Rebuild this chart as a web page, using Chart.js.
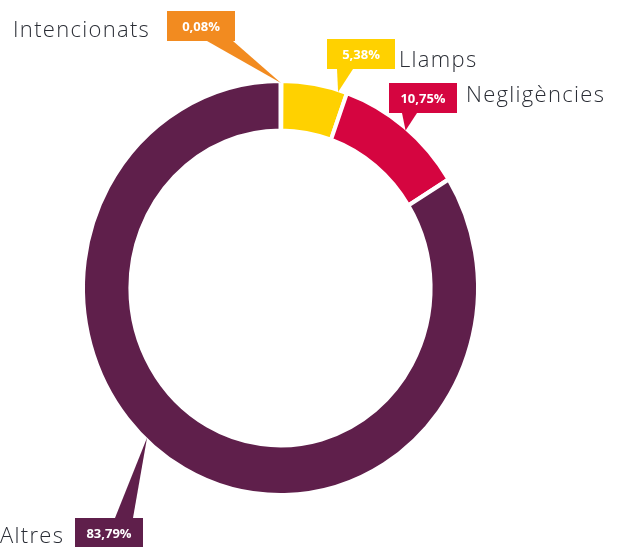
<!DOCTYPE html>
<html><head><meta charset="utf-8">
<script src="https://cdn.jsdelivr.net/npm/chart.js@4.4.0/dist/chart.umd.min.js"></script>
<style>html,body{margin:0;padding:0;background:#fff;overflow:hidden}#wrap{width:626px;height:547px;position:relative}</style>
</head><body><div id="wrap"><canvas id="c"></canvas></div>
<script>
const categories = ['Intencionats', 'Llamps', 'Negligències', 'Altres'];
const values = [0.08, 5.38, 10.75, 83.79];
const colors = ['#F28B20', '#FFD100', '#D50540', '#5F1F4B'];
const valueLabels = values.map(v => v.toFixed(2).replace('.', ',') + '%');

// callout layout (annotation positions)
const callouts = [
  {box: [167, 11], text: [13, 37], base: 'bottom', b0: 40, b1: 66, frac: 0.5},
  {box: [327, 39], text: [399, 67], base: 'bottom', b0: 10, b1: 26, frac: 0.87},
  {box: [389, 83], text: [466, 102], base: 'bottom', b0: 13, b1: 28, frac: 0.52},
  {box: [75, 518], text: [0, 543], base: 'top', b0: 40, b1: 58, frac: 0.546}
];
const boxW = 68, boxH = 30;
const ringAspect = 205 / 195.5;

const stretch = {
  id: 'stretch',
  beforeDatasetsDraw(chart) {
    const a = chart.getDatasetMeta(0).data[0];
    const ctx = chart.ctx;
    ctx.save();
    ctx.translate(a.x, a.y);
    ctx.scale(1, ringAspect);
    ctx.translate(-a.x, -a.y);
  },
  afterDatasetsDraw(chart) { chart.ctx.restore(); }
};

const calloutPlugin = {
  id: 'callouts',
  afterDraw(chart) {
    const ctx = chart.ctx;
    const arcs = chart.getDatasetMeta(0).data;
    arcs.forEach((arc, i) => {
      const c = callouts[i];
      const ang = arc.startAngle + c.frac * (arc.endAngle - arc.startAngle);
      const r = arc.outerRadius - 2;
      const tx = arc.x + Math.cos(ang) * r;
      const ty = arc.y + Math.sin(ang) * r * ringAspect;
      const [bx, by] = c.box;
      const baseY = c.base === 'bottom' ? by + boxH : by;
      ctx.save();
      ctx.fillStyle = colors[i];
      ctx.beginPath();
      ctx.moveTo(bx + c.b0, baseY);
      ctx.lineTo(bx + c.b1, baseY);
      ctx.lineTo(tx, ty);
      ctx.closePath();
      ctx.fill();
      ctx.fillRect(bx, by, boxW, boxH);
      ctx.fillStyle = '#ffffff';
      ctx.font = 'bold 13px "Open Sans", Lato, sans-serif';
      ctx.textAlign = 'center';
      ctx.textBaseline = 'middle';
      ctx.fillText(valueLabels[i], bx + boxW / 2, by + boxH / 2 + 1);
      ctx.fillStyle = '#2A2D35';
      ctx.font = '300 22px "Open Sans", "Noto Sans", sans-serif';
      ctx.letterSpacing = '1.3px';
      ctx.textAlign = 'left';
      ctx.textBaseline = 'alphabetic';
      ctx.fillText(categories[i], c.text[0], c.text[1]);
      ctx.restore();
    });
  }
};

new Chart(document.getElementById('c'), {
  type: 'doughnut',
  data: {
    labels: categories,
    datasets: [{
      data: values,
      backgroundColor: colors,
      borderColor: '#ffffff',
      borderWidth: 4,
      hoverOffset: 0
    }]
  },
  options: {
    responsive: true,
    maintainAspectRatio: false,
    animation: false,
    cutout: '76%',
    layout: {padding: {left: 81, right: 146, top: 88.5, bottom: 59.5}},
    plugins: {legend: {display: false}, tooltip: {enabled: false}}
  },
  plugins: [stretch, calloutPlugin]
});
</script></body></html>
